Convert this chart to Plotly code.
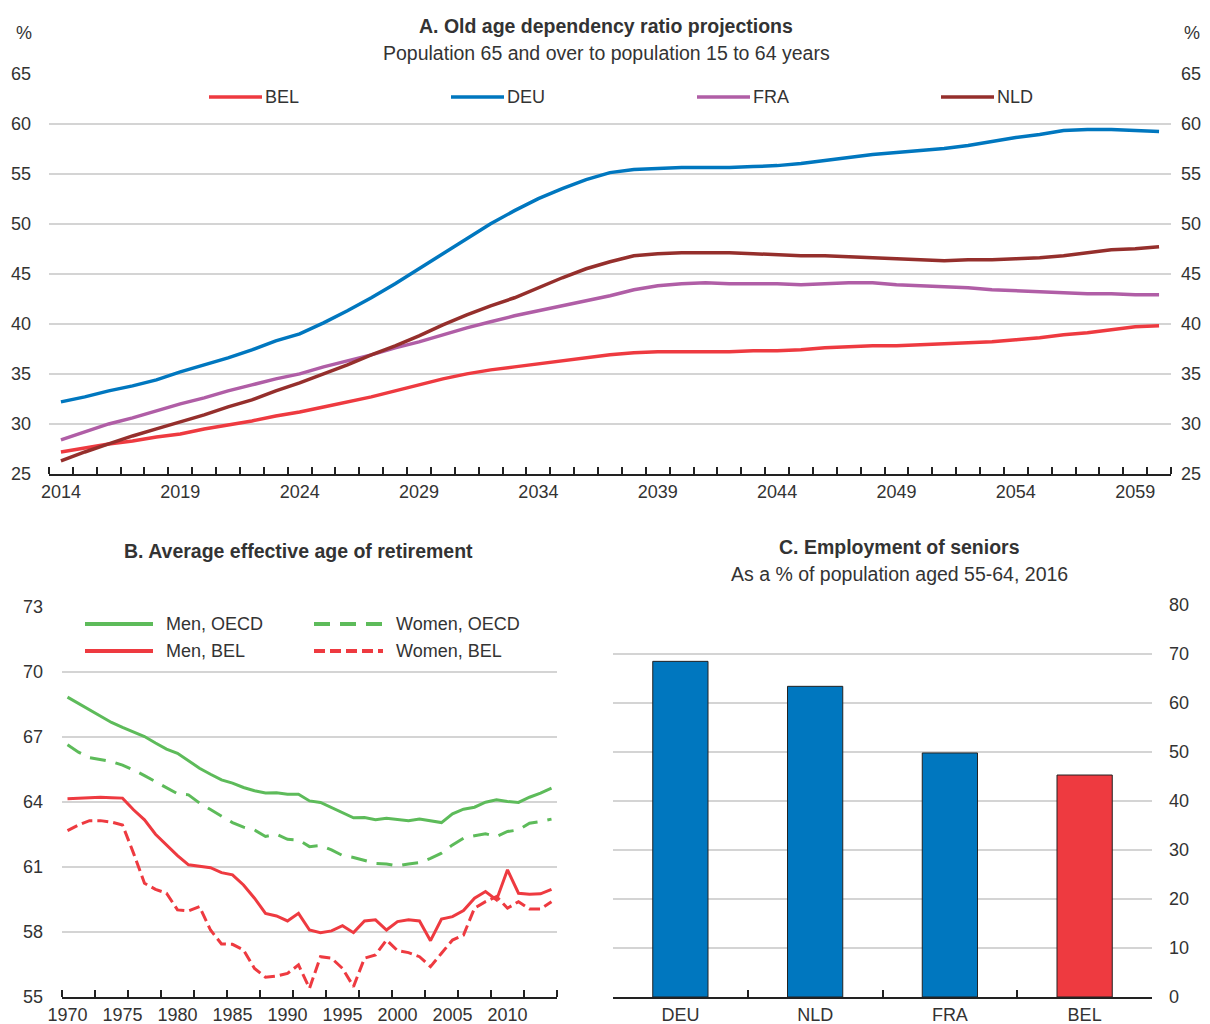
import plotly.graph_objects as go

# ---- data ----
years_a = list(range(2014, 2061))
bel_a = [27.2, 27.6, 28.0, 28.3, 28.7, 29.0, 29.5, 29.9, 30.3, 30.8, 31.2, 31.7, 32.2, 32.7, 33.3, 33.9,
         34.5, 35.0, 35.4, 35.7, 36.0, 36.3, 36.6, 36.9, 37.1, 37.2, 37.2, 37.2, 37.2, 37.3, 37.3, 37.4,
         37.6, 37.7, 37.8, 37.8, 37.9, 38.0, 38.1, 38.2, 38.4, 38.6, 38.9, 39.1, 39.4, 39.7, 39.8]
deu_a = [32.2, 32.7, 33.3, 33.8, 34.4, 35.2, 35.9, 36.6, 37.4, 38.3, 39.0, 40.1, 41.3, 42.6, 44.0, 45.5,
         47.0, 48.5, 50.0, 51.3, 52.5, 53.5, 54.4, 55.1, 55.4, 55.5, 55.6, 55.6, 55.6, 55.7, 55.8, 56.0,
         56.3, 56.6, 56.9, 57.1, 57.3, 57.5, 57.8, 58.2, 58.6, 58.9, 59.3, 59.4, 59.4, 59.3, 59.2]
fra_a = [28.4, 29.2, 30.0, 30.6, 31.3, 32.0, 32.6, 33.3, 33.9, 34.5, 35.0, 35.7, 36.3, 36.9, 37.6, 38.2,
         38.9, 39.6, 40.2, 40.8, 41.3, 41.8, 42.3, 42.8, 43.4, 43.8, 44.0, 44.1, 44.0, 44.0, 44.0, 43.9,
         44.0, 44.1, 44.1, 43.9, 43.8, 43.7, 43.6, 43.4, 43.3, 43.2, 43.1, 43.0, 43.0, 42.9, 42.9]
nld_a = [26.3, 27.2, 28.0, 28.8, 29.5, 30.2, 30.9, 31.7, 32.4, 33.3, 34.1, 35.0, 35.9, 36.9, 37.8, 38.8,
         39.9, 40.9, 41.8, 42.6, 43.6, 44.6, 45.5, 46.2, 46.8, 47.0, 47.1, 47.1, 47.1, 47.0, 46.9, 46.8,
         46.8, 46.7, 46.6, 46.5, 46.4, 46.3, 46.4, 46.4, 46.5, 46.6, 46.8, 47.1, 47.4, 47.5, 47.7]

years_b = list(range(1970, 2015))
men_oecd = [68.84, 68.55, 68.26, 67.95, 67.67, 67.44, 67.23, 67.02, 66.72, 66.44, 66.25, 65.90, 65.56,
            65.28, 65.02, 64.87, 64.67, 64.52, 64.42, 64.43, 64.36, 64.36, 64.05, 63.98, 63.75, 63.53,
            63.27, 63.28, 63.18, 63.25, 63.18, 63.14, 63.22, 63.13, 63.05, 63.45, 63.67, 63.76, 63.99,
            64.10, 64.02, 63.98, 64.22, 64.41, 64.64]
women_oecd = [66.64, 66.30, 66.05, 65.95, 65.87, 65.70, 65.48, 65.22, 64.95, 64.65, 64.38, 64.33, 63.95,
              63.65, 63.33, 63.05, 62.84, 62.71, 62.41, 62.51, 62.28, 62.25, 61.94, 61.99, 61.79, 61.53,
              61.44, 61.30, 61.17, 61.14, 61.05, 61.14, 61.20, 61.40, 61.64, 62.02, 62.33, 62.44, 62.53,
              62.41, 62.64, 62.71, 63.02, 63.10, 63.21]
men_bel = [64.15, 64.18, 64.21, 64.22, 64.20, 64.18, 63.64, 63.18, 62.51, 62.02, 61.53, 61.10, 61.02,
           60.97, 60.74, 60.64, 60.17, 59.56, 58.86, 58.74, 58.51, 58.86, 58.09, 57.97, 58.05, 58.29,
           57.97, 58.51, 58.56, 58.09, 58.48, 58.56, 58.51, 57.60, 58.60, 58.71, 58.99, 59.56, 59.87,
           59.48, 60.87, 59.79, 59.74, 59.76, 59.97]
women_bel = [62.68, 62.94, 63.14, 63.14, 63.07, 62.94, 61.64, 60.25, 59.97, 59.79, 59.02, 58.97, 59.17,
             58.09, 57.45, 57.43, 57.17, 56.32, 55.91, 55.97, 56.09, 56.48, 55.40, 56.86, 56.79, 56.32,
             55.48, 56.79, 56.94, 57.63, 57.14, 57.05, 56.86, 56.40, 57.02, 57.63, 57.86, 59.10, 59.40,
             59.63, 59.10, 59.40, 59.06, 59.06, 59.40]

countries_c = ["DEU", "NLD", "FRA", "BEL"]
employment_c = [68.5, 63.4, 49.8, 45.3]

BLUE = "#0077BF"
RED = "#EE3A40"
PURPLE = "#B05EA6"
DARKRED = "#952F2C"
GREEN = "#5DBB5A"
TEXT = "#333333"
GRID = "#D4D4D4"
FONT = "Liberation Sans, Arial, sans-serif"

# the page body has an 8px margin, so the figure is drawn 8px in from the window edge;
# size it so it reaches the right and bottom edges of the window
PAGE_MARGIN = 8
W, H = 1210 - PAGE_MARGIN, 1024 - PAGE_MARGIN


def px(x):
    return (x - PAGE_MARGIN) / W


def py(y):
    return 1 - (y - PAGE_MARGIN) / H


fig = go.Figure()

# panel A lines
for name, vals, col in [("BEL", bel_a, RED), ("DEU", deu_a, BLUE), ("FRA", fra_a, PURPLE), ("NLD", nld_a, DARKRED)]:
    fig.add_trace(go.Scatter(x=years_a, y=vals, mode="lines", name=name,
                             line=dict(color=col, width=3.5), xaxis="x", yaxis="y", showlegend=False))
# invisible trace so the right-hand axis of panel A gets drawn
fig.add_trace(go.Scatter(x=years_a, y=deu_a, mode="lines", line=dict(width=0), opacity=0,
                         xaxis="x", yaxis="y4", showlegend=False, hoverinfo="skip"))

# panel B lines
for name, vals, col, dash in [("Men, OECD", men_oecd, GREEN, "solid"), ("Women, OECD", women_oecd, GREEN, "16px,10px"),
                              ("Men, BEL", men_bel, RED, "solid"), ("Women, BEL", women_bel, RED, "11px,5px")]:
    fig.add_trace(go.Scatter(x=years_b, y=vals, mode="lines", name=name,
                             line=dict(color=col, width=3, dash=dash), xaxis="x2", yaxis="y2", showlegend=False))

# panel C bars
fig.add_trace(go.Bar(x=countries_c, y=employment_c, width=0.41,
                     marker=dict(color=[BLUE, BLUE, BLUE, RED], line=dict(color="#222222", width=1)),
                     xaxis="x3", yaxis="y3", showlegend=False))

tickfont = dict(family=FONT, size=18, color=TEXT)
axis_common = dict(showline=True, linecolor="#222222", linewidth=2, ticks="inside", tickcolor="#222222",
                   ticklen=7, tickwidth=1.5, tickfont=tickfont, showgrid=False, zeroline=False,
                   fixedrange=True, automargin=False)
yaxis_common = dict(showgrid=True, gridcolor=GRID, gridwidth=2, zeroline=False, showline=False,
                    ticks="", tickfont=tickfont, fixedrange=True, automargin=False)

fig.update_layout(
    template="none",
    width=W, height=H, margin=dict(l=0, r=0, t=0, b=0, pad=0),
    paper_bgcolor="white", plot_bgcolor="white",
    font=dict(family=FONT, color=TEXT),
    xaxis=dict(axis_common, domain=[px(49), px(1171)], range=[2013.5, 2060.5], anchor="y",
               tickvals=list(range(2014, 2061, 5)), ticks="",
               minor=dict(tick0=2013.5, dtick=1, ticks="inside", ticklen=7, tickcolor="#222222", tickwidth=1.5)),
    yaxis=dict(yaxis_common, domain=[py(474), py(73.5)], range=[25, 65], tick0=25, dtick=5, anchor="x",
               ticklabelstandoff=17),
    yaxis4=dict(yaxis_common, overlaying="y", side="right", matches="y", anchor="x", showgrid=False,
                tick0=25, dtick=5, ticklabelstandoff=9),
    xaxis2=dict(axis_common, domain=[px(62), px(557)], range=[1969.5, 2014.5], anchor="y2",
                tickvals=list(range(1970, 2015, 5)), ticks="",
                minor=dict(tick0=1969.5, dtick=3, ticks="inside", ticklen=7, tickcolor="#222222", tickwidth=1.5)),
    yaxis2=dict(yaxis_common, domain=[py(997), py(607)], range=[55, 73], tick0=55, dtick=3, anchor="x2",
                ticklabelstandoff=18),
    xaxis3=dict(axis_common, domain=[px(613), px(1152)], anchor="y3", tickson="boundaries"),
    yaxis3=dict(yaxis_common, domain=[py(997), py(605)], range=[0, 80], tick0=0, dtick=10, anchor="x3",
                side="right", ticklabelstandoff=16),
    bargap=0.59,
)

ann = []


def text(x, y, s, size=18, bold=False, anchor="center"):
    ann.append(dict(x=px(x), y=py(y), xref="paper", yref="paper", text=f"<b>{s}</b>" if bold else s,
                    showarrow=False, xanchor=anchor, yanchor="middle",
                    font=dict(family=FONT, size=size, color=TEXT)))


text(606, 26, "A. Old age dependency ratio projections", size=19.5, bold=True)
text(606, 53, "Population 65 and over to population 15 to 64 years", size=19.5)
text(24, 33, "%")
text(1192, 33, "%")
text(298, 551, "B. Average effective age of retirement", size=19.5, bold=True)
text(899, 547, "C. Employment of seniors", size=19.5, bold=True)
text(899, 574, "As a % of population aged 55-64, 2016", size=19.5)

shapes = []


def legend_item(x0, x1, xt, y, label, col, width=3.5, dash="solid"):
    shapes.append(dict(type="line", xref="paper", yref="paper", x0=px(x0), x1=px(x1), y0=py(y), y1=py(y),
                       line=dict(color=col, width=width, dash=dash)))
    text(xt, y, label, anchor="left")


legend_item(209, 262, 263, 97, "BEL", RED)
legend_item(451, 504, 505, 97, "DEU", BLUE)
legend_item(697, 750, 751, 97, "FRA", PURPLE)
legend_item(941, 994, 995, 97, "NLD", DARKRED)
legend_item(85, 153, 164, 624, "Men, OECD", GREEN, width=4)
legend_item(85, 153, 164, 651, "Men, BEL", RED, width=4)
legend_item(314, 383, 394, 624, "Women, OECD", GREEN, width=4, dash="16px,10px")
legend_item(314, 383, 394, 651, "Women, BEL", RED, width=4, dash="11px,5px")

fig.update_layout(annotations=ann, shapes=shapes)

fig.write_html("out.html")
